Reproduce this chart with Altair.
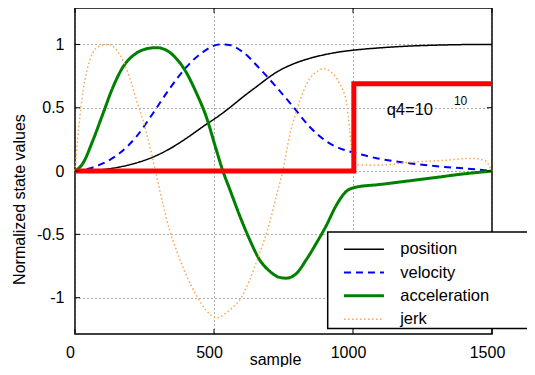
import altair as alt
import pandas as pd

# ---------------- data ----------------
series_names = ["position", "velocity", "acceleration", "jerk"]
series_colors = ["#000000", "#0000FF", "#008000", "#FFA64D"]
series_dashes = [[1, 0], [7, 5], [1, 0], [1.5, 2.5]]
series_widths = [1.5, 2, 3, 1.5]

pos_x = [0, 50, 100, 160, 220, 280, 340, 400, 466, 520, 556, 604, 664, 694, 724, 784, 844, 904, 964, 1024, 1089, 1209, 1329, 1450, 1500]
pos_y = [0, 0.004, 0.012, 0.032, 0.064, 0.11, 0.175, 0.258, 0.36, 0.44, 0.5, 0.585, 0.685, 0.735, 0.78, 0.845, 0.89, 0.922, 0.945, 0.96, 0.972, 0.988, 0.996, 1.0, 1.0]

vel_x = [0, 52, 100, 160, 220, 280, 340, 400, 460, 520, 556, 604, 664, 724, 784, 844, 904, 964, 1012, 1089, 1209, 1329, 1449, 1500]
vel_y = [0, 0.02, 0.06, 0.14, 0.27, 0.455, 0.65, 0.82, 0.94, 1.0, 0.995, 0.94, 0.81, 0.665, 0.51, 0.35, 0.235, 0.17, 0.14, 0.10, 0.06, 0.033, 0.012, 0]

acc_x = [0, 28, 64, 100, 136, 172, 220, 256, 292, 328, 364, 400, 436, 472, 508, 532, 556, 592, 628, 664, 700, 736, 760, 796, 832, 868, 904, 940, 976, 1005, 1100, 1200, 1300, 1400, 1500]
acc_y = [0, 0.06, 0.24, 0.45, 0.66, 0.82, 0.93, 0.965, 0.975, 0.955, 0.89, 0.78, 0.62, 0.43, 0.17, 0.0, -0.14, -0.35, -0.54, -0.70, -0.79, -0.84, -0.846, -0.81, -0.70, -0.57, -0.43, -0.27, -0.16, -0.13, -0.105, -0.078, -0.05, -0.022, 0]

jerk_x = [0, 10, 25, 46, 82, 118, 160, 190, 220, 250, 274, 294, 316, 340, 364, 400, 436, 472, 510, 544, 568, 592, 628, 664, 700, 724, 748, 772, 796, 820, 844, 874, 897, 916, 934, 952, 976, 988, 1000, 1010, 1089, 1209, 1329, 1425, 1473, 1500]
jerk_y = [0, 0.26, 0.57, 0.82, 0.98, 1.0, 0.925, 0.78, 0.57, 0.36, 0.15, -0.046, -0.256, -0.466, -0.62, -0.82, -0.98, -1.10, -1.16, -1.12, -1.075, -1.02, -0.86, -0.65, -0.41, -0.20, 0.006, 0.28, 0.47, 0.62, 0.73, 0.79, 0.81, 0.79, 0.755, 0.69, 0.545, 0.33, 0.08, 0.05, 0.046, 0.07, 0.085, 0.10, 0.085, 0.0]

q4_x = [0, 1003, 1003, 1500]
q4_y = [0, 0, 0.69, 0.69]

note_text = ["q4=10", "10"]
note_x = [1121, 1363]
note_y = [0.48, 0.55]
note_size = [16.5, 12]

x_ticks = [0, 500, 1000, 1500]
y_ticks = [-1, -0.5, 0, 0.5, 1]

# ---------------- tables ----------------
rows = []
for name, xs_, ys_ in zip(series_names, [pos_x, vel_x, acc_x, jerk_x],
                          [pos_y, vel_y, acc_y, jerk_y]):
    for i, (xv, yv) in enumerate(zip(xs_, ys_)):
        rows.append({"series": name, "sample": xv, "value": yv, "idx": i})
df = pd.DataFrame(rows)
df_q4 = pd.DataFrame({"sample": q4_x, "value": q4_y, "idx": list(range(len(q4_x)))})
df_note = pd.DataFrame({"t": note_text, "sample": note_x, "value": note_y, "fs": note_size})
df_xt = pd.DataFrame({"sample": x_ticks})
df_yt = pd.DataFrame({"value": y_ticks})

W, H = 417, 326
FONT = "Liberation Sans"
xs = alt.Scale(domain=[0, 1500], nice=False, zero=False)
ys = alt.Scale(domain=[-1.287, 1.288], nice=False, zero=False)

x_axis = alt.Axis(values=x_ticks, format="d", title="sample", grid=True, gridDash=[1, 3],
                  gridColor="#555", ticks=False, domain=False, labelFontSize=16,
                  labelPadding=10, labelOffset=-5, labelFont=FONT, labelColor="black",
                  titleFont=FONT, titleFontSize=16, titleFontWeight="normal",
                  titleColor="black", titleX=200, titleY=30, titleBaseline="alphabetic",
                  labelFlush=False)
y_axis = alt.Axis(values=y_ticks, title="Normalized state values", grid=True,
                  gridDash=[1, 3], gridColor="#555", ticks=False, domain=False,
                  labelFontSize=16, labelPadding=11, labelFont=FONT, labelColor="black",
                  labelExpr="datum.value < 0 ? '-' + format(-datum.value, '') : format(datum.value, '')",
                  titleFont=FONT, titleFontSize=16, titleFontWeight="normal",
                  titleColor="black", titlePadding=9, titleY=191)

X = alt.X("sample:Q", scale=xs, axis=x_axis, title="sample")
Y = alt.Y("value:Q", scale=ys, axis=y_axis, title="Normalized state values")

# legend entries (symbols + labels); its frame is drawn by the box layer below
legend = alt.Legend(title=None, orient="none", legendX=252.7, legendY=226,
                    direction="vertical", padding=7, rowPadding=6.3,
                    symbolType="M-1,0H7", symbolSize=100,
                    symbolOffset=6, labelOffset=43, labelFontSize=16.5, labelFont=FONT,
                    labelColor="black")

lines = alt.Chart(df).mark_line(interpolate="monotone").encode(
    x=X, y=Y,
    color=alt.Color("series:N", scale=alt.Scale(domain=series_names, range=series_colors), legend=legend),
    strokeDash=alt.StrokeDash("series:N", scale=alt.Scale(domain=series_names, range=series_dashes), legend=legend),
    strokeWidth=alt.StrokeWidth("series:N", scale=alt.Scale(type="ordinal", domain=series_names, range=series_widths), legend=legend),
    order="idx:Q",
)

q4 = alt.Chart(df_q4).mark_line(color="#FF0000", strokeWidth=5, strokeCap="butt",
                                strokeJoin="miter").encode(x=X, y=Y, order="idx:Q")

notes = alt.Chart(df_note).mark_text(align="left", baseline="middle", font=FONT,
                                     color="black").encode(
    x=X, y=Y, text="t:N", size=alt.Size("fs:Q", scale=None))

tk = dict(color="black", strokeWidth=1)
t_left = alt.Chart(df_yt).mark_rule(**tk).encode(y=Y, x=alt.value(0), x2=alt.value(5))
t_right = alt.Chart(df_yt).mark_rule(**tk).encode(y=Y, x=alt.value(W - 5), x2=alt.value(W))
t_bot = alt.Chart(df_xt).mark_rule(**tk).encode(x=X, y=alt.value(H - 5), y2=alt.value(H))
t_top = alt.Chart(df_xt).mark_rule(**tk).encode(x=X, y=alt.value(0), y2=alt.value(5))

# legend frame: white box with black border running off the right edge
legend_box = alt.Chart(pd.DataFrame({"k": [0]})).mark_rect(
    fill="white", stroke="black", strokeWidth=1.5).encode(
    x=alt.value(252.7), x2=alt.value(W + 120), y=alt.value(224), y2=alt.value(320.5))

chart = alt.layer(lines, q4, notes, t_left, t_right, t_bot, t_top, legend_box).properties(
    width=W, height=H,
    autosize=alt.AutoSizeParams(type="none"),
    padding={"left": 67, "top": 0, "right": 35, "bottom": 33},
    background="white",
).configure_view(stroke="black", strokeWidth=1.5)

chart.save("out.html", embed_options={"renderer": "svg", "actions": False})
